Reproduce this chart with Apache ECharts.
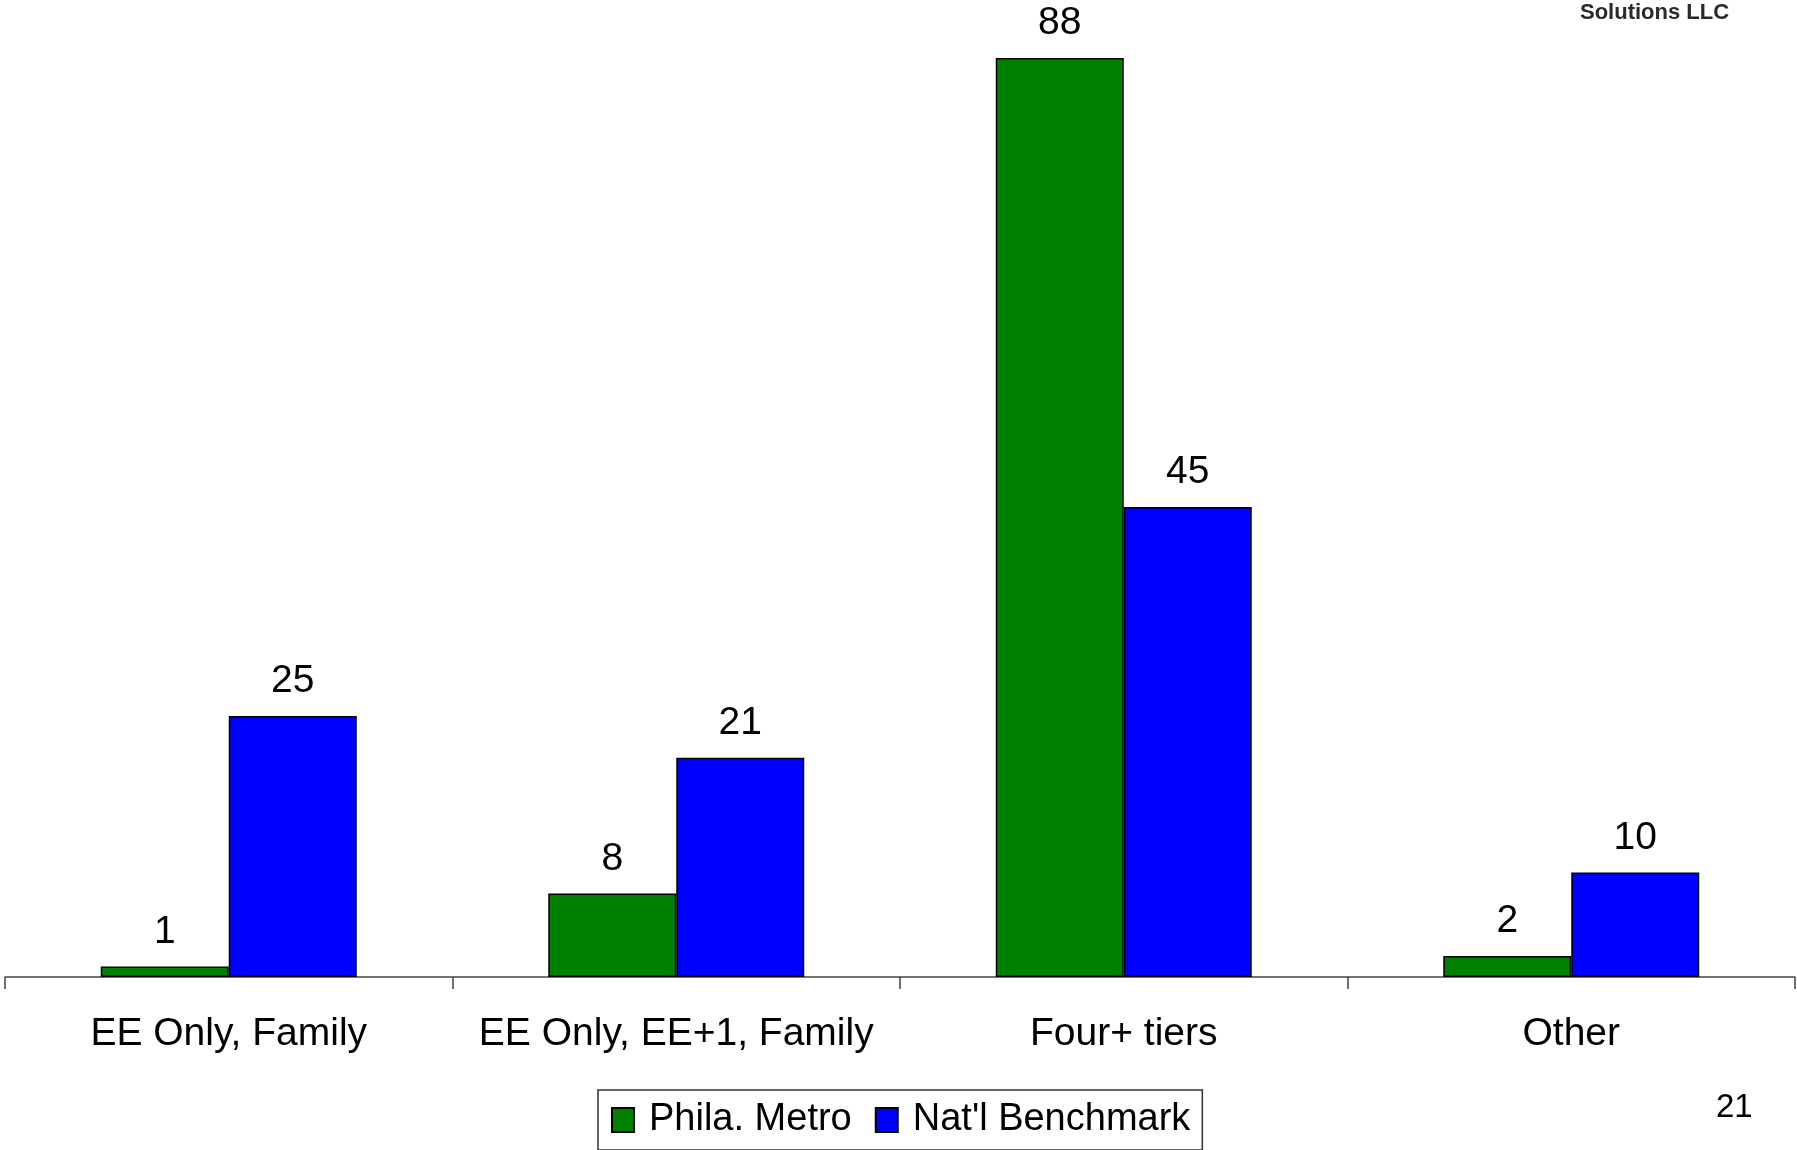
<!DOCTYPE html>
<html>
<head>
<meta charset="utf-8">
<script src="https://cdn.jsdelivr.net/npm/echarts@6/dist/echarts.min.js"></script>
<style>
  html, body { margin: 0; padding: 0; background: #fff; }
  #chart { width: 1797px; height: 1150px; }
</style>
</head>
<body>
<div id="chart"></div>
<script>
// Plan tier structures: share of plans (%)
var categories = ['EE Only, Family', 'EE Only, EE+1, Family', 'Four+ tiers', 'Other'];
var philaMetro = [1, 8, 88, 2];
var natlBenchmark = [25, 21, 45, 10];
var seriesNames = ['Phila. Metro', "Nat'l Benchmark"];

var FONT = '"Liberation Sans", Arial, Helvetica, sans-serif';

var chart = echarts.init(document.getElementById('chart'), null, { renderer: 'canvas' });

var labelStyle = {
  show: true,
  position: 'top',
  distance: 15,
  color: '#000',
  fontFamily: FONT,
  fontSize: 39
};

chart.setOption({
  animation: false,
  backgroundColor: '#fff',
  grid: { left: 5, right: 2, top: 37, bottom: 173, containLabel: false },
  xAxis: {
    type: 'category',
    data: categories,
    boundaryGap: true,
    axisLine: { show: true, lineStyle: { color: '#444', width: 1.5 } },
    axisTick: { show: true, length: 12, alignWithLabel: false, lineStyle: { color: '#444', width: 1.5 } },
    axisLabel: { color: '#000', fontFamily: FONT, fontSize: 39, margin: 38, interval: 0 },
    splitLine: { show: false }
  },
  yAxis: {
    type: 'value',
    min: 0,
    max: 90,
    show: false
  },
  legend: {
    left: 598,
    top: 1090,
    orient: 'horizontal',
    icon: 'rect',
    itemWidth: 22,
    itemHeight: 24,
    itemGap: 23,
    padding: [11, 12, 11, 13],
    borderColor: '#333',
    borderWidth: 1.5,
    data: seriesNames,
    textStyle: {
      color: '#000',
      fontFamily: FONT,
      fontSize: 38,
      padding: [0, 0, 0, 10]
    }
  },
  series: [
    {
      name: seriesNames[0],
      type: 'bar',
      data: philaMetro,
      barWidth: 128,
      barGap: '0%',
      itemStyle: { color: '#008000', borderColor: '#000', borderWidth: 1.5 },
      label: labelStyle
    },
    {
      name: seriesNames[1],
      type: 'bar',
      data: natlBenchmark,
      barWidth: 128,
      barGap: '0%',
      itemStyle: { color: '#0000ff', borderColor: '#000', borderWidth: 1.5 },
      label: labelStyle
    }
  ],
  graphic: [
    {
      type: 'text',
      left: 1580,
      top: 2,
      style: {
        text: 'Solutions LLC',
        fill: '#2a2a2a',
        font: 'bold 22px ' + FONT
      }
    },
    {
      type: 'text',
      left: 1716,
      top: 1091,
      style: {
        text: '21',
        fill: '#000',
        font: '33px ' + FONT
      }
    }
  ]
});
</script>
</body>
</html>
